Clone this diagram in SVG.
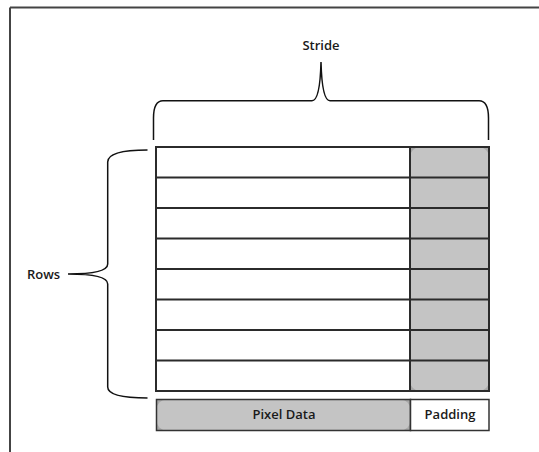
<svg xmlns="http://www.w3.org/2000/svg" width="539" height="452" viewBox="0 0 539 452">
<style>
.lbl{font-family:"Open Sans","Liberation Sans",sans-serif;font-size:13px;font-weight:600;fill:#1a1a1a;text-anchor:middle}
.grid{stroke:#2b2b2b;stroke-width:2;fill:none}
.brace{stroke:#111;stroke-width:1.5;fill:none}
</style>
<rect width="539" height="452" fill="#fff"/>
<g id="frame">
<line x1="10" y1="7.5" x2="539" y2="7.5" stroke="#444" stroke-width="2"/>
<line x1="10" y1="7.5" x2="10" y2="452" stroke="#444" stroke-width="2"/>
</g>
<g id="padding-column">
<rect x="410" y="147" width="79" height="244" fill="#a8a8a8"/>
<rect x="410" y="147" width="79" height="244" rx="10" fill="#c4c4c4"/>
</g>
<g id="grid">
<rect class="grid" x="156" y="147" width="333" height="244"/>
<line class="grid" x1="410" y1="147" x2="410" y2="391"/>
<line class="grid" x1="156" y1="177.5" x2="489" y2="177.5"/>
<line class="grid" x1="156" y1="208" x2="489" y2="208"/>
<line class="grid" x1="156" y1="238.5" x2="489" y2="238.5"/>
<line class="grid" x1="156" y1="269" x2="489" y2="269"/>
<line class="grid" x1="156" y1="299.5" x2="489" y2="299.5"/>
<line class="grid" x1="156" y1="330" x2="489" y2="330"/>
<line class="grid" x1="156" y1="360.5" x2="489" y2="360.5"/>
</g>
<g id="stride">
<path class="brace" d="M153.5,140 L153.5,118 Q153.5,100.7 163,100.7 L312,100.7 Q320,100.7 321,62 Q322,100.7 330,100.7 L479,100.7 Q488.5,100.7 488.5,118 L488.5,140"/>
<text class="lbl" x="321" y="50">Stride</text>
</g>
<g id="rows">
<path class="brace" d="M147.5,150 Q107.7,150 107.7,162 L107.7,264 Q107.7,274 68,274 Q107.7,274 107.7,284 L107.7,387 Q107.7,398 147.5,398"/>
<text class="lbl" x="43.5" y="279">Rows</text>
</g>
<g id="legend-pixel-data">
<rect x="156.5" y="399.5" width="254" height="31" fill="#a8a8a8"/>
<rect x="156.5" y="399.5" width="254" height="31" rx="10" fill="#c4c4c4"/>
<rect x="156.5" y="399.5" width="254" height="31" fill="none" stroke="#333" stroke-width="1.5"/>
<text class="lbl" x="284" y="419">Pixel Data</text>
</g>
<g id="legend-padding">
<rect x="410.5" y="399.5" width="78.5" height="31" fill="#fff" stroke="#333" stroke-width="1.5"/>
<text class="lbl" x="450" y="419">Padding</text>
</g>
</svg>
